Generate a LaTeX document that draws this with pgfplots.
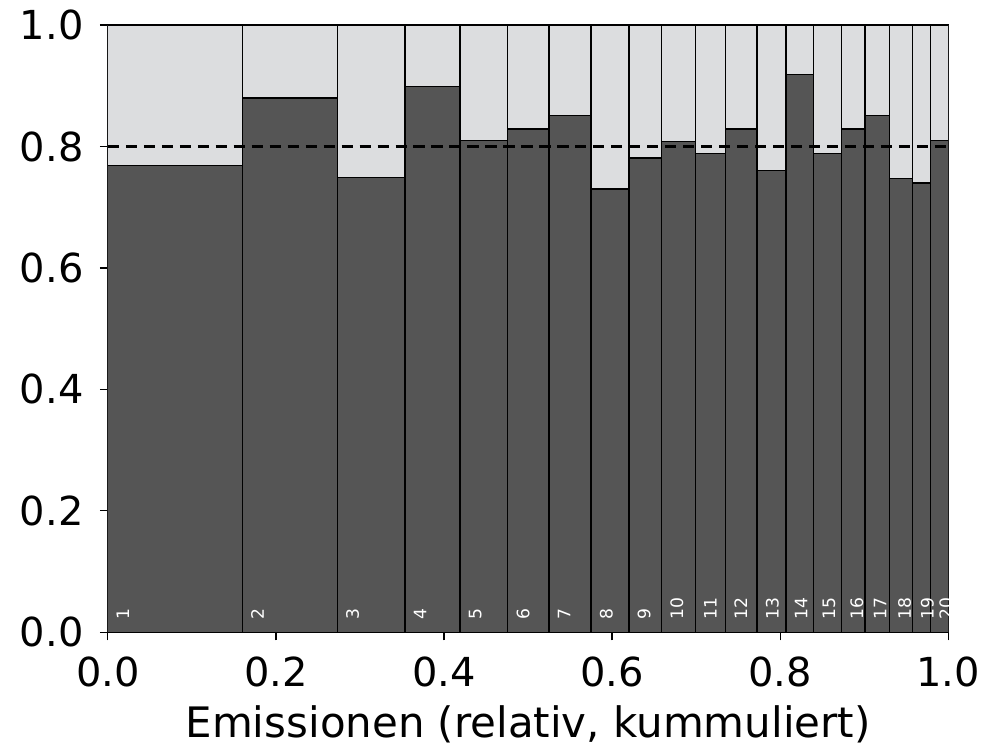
\documentclass[border={9pt 1pt 2pt 4pt}]{standalone}
\usepackage{fontspec}
\setmainfont{DejaVu Sans}
\usepackage{pgfplots}
\usepackage{pgfplotstable}
\pgfplotsset{compat=1.18}

\definecolor{bardark}{RGB}{85,85,85}
\definecolor{barlight}{RGB}{220,221,223}

% left edge of each bar (cumulative share), height = share; last row only closes the interval
\pgfplotstableread{
x      h
0.000  0.769
0.160  0.880
0.273  0.749
0.3535 0.899
0.419  0.810
0.476  0.829
0.525  0.851
0.575  0.730
0.620  0.781
0.659  0.808
0.699  0.789
0.735  0.829
0.7725 0.760
0.807  0.918
0.840  0.788
0.873  0.829
0.901  0.851
0.930  0.748
0.957  0.740
0.979  0.810
1.000  0.810
}\bars

\pgfplotstableread{
x      y    lab
0.010  0.02 1
0.170  0.02 2
0.283  0.02 3
0.3635 0.02 4
0.429  0.02 5
0.486  0.02 6
0.535  0.02 7
0.585  0.02 8
0.630  0.02 9
0.669  0.02 10
0.709  0.02 11
0.745  0.02 12
0.7825 0.02 13
0.817  0.02 14
0.850  0.02 15
0.883  0.02 16
0.911  0.02 17
0.940  0.02 18
0.967  0.02 19
0.989  0.02 20
}\labels

\begin{document}
\begin{tikzpicture}
\begin{axis}[
scale only axis,
width=420.7pt,
height=304pt,
xmin=0, xmax=1,
ymin=0, ymax=1,
xtick={0,0.2,0.4,0.6,0.8,1},
ytick={0,0.2,0.4,0.6,0.8,1},
xtick pos=left, ytick pos=left,
tick align=outside,
major tick length=4pt,
every tick/.style={black, line width=0.6pt},
axis line style={line width=0.6pt},
tick label style={font=\fontsize{20}{24}\selectfont, inner sep=1pt},
xticklabel shift=7pt,
yticklabel shift=7pt,
/pgf/number format/.cd, fixed, fixed zerofill, precision=1, assume math mode=true,
/pgfplots/.cd,
xlabel={Emissionen (relativ, kummuliert)},
xlabel style={font=\fontsize{21}{25}\selectfont, inner sep=0pt, yshift=-8pt},
]
\addplot[ybar interval, fill=barlight, draw=black, line width=0.6pt]
  table[x=x, y expr=1] {\bars};
\addplot[ybar interval, fill=bardark, draw=black, line width=0.6pt]
  table[x=x, y=h] {\bars};
\addplot[black, line width=1.6pt, dash pattern=on 5.6pt off 3.4pt]
  coordinates {(0,0.8) (1,0.8)};
\addplot[draw=none, mark=none, nodes near coords, point meta=explicit symbolic,
  nodes near coords style={rotate=90, anchor=north west, inner sep=0pt,
    text=white, font=\fontsize{8.6}{10}\selectfont}]
  table[x=x, y=y, meta=lab] {\labels};
\end{axis}
\end{tikzpicture}
\end{document}
